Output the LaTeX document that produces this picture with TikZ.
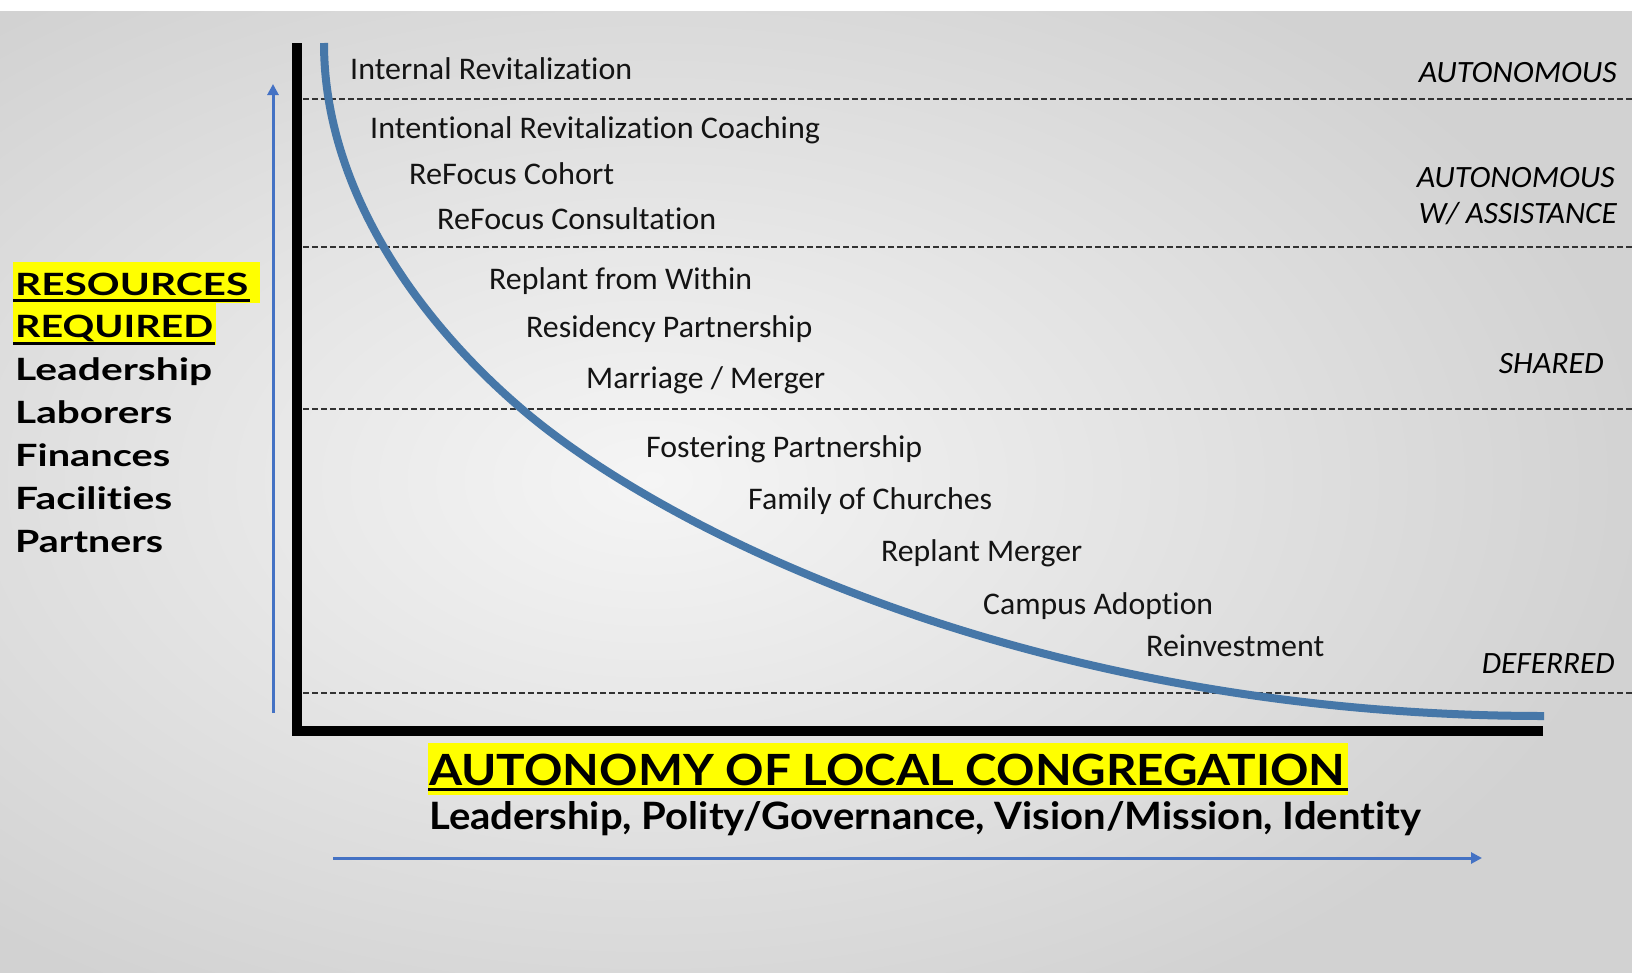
\documentclass[tikz,border=0pt]{standalone}
\usepackage{fontspec}
\usepackage{graphicx}
\setmainfont{Carlito}[Ligatures=NoCommon, RawFeature={-clig;-dlig;-calt}]
\newfontfamily\gotham{Lato}[Ligatures=NoCommon, RawFeature={-clig;-dlig;-calt}]
\usetikzlibrary{arrows.meta}
\definecolor{curveblue}{HTML}{4677A8}
\definecolor{arrowblue}{HTML}{4472C4}
\definecolor{hl}{HTML}{FFFF00}
\definecolor{dashgray}{HTML}{333333}
\definecolor{bgedge}{HTML}{D2D2D2}
\definecolor{bgmid}{HTML}{F5F5F5}
\newcommand{\fitto}[2]{\resizebox{#1pt}{\height}{#2}}
\newcommand{\tsep}{\kern0pt}
\tikzset{
  item/.style={anchor=base west, inner sep=0pt, font=\fontsize{31.5}{32}\selectfont, text=black!92},
  zone/.style={anchor=base east, inner sep=0pt, font=\fontsize{31}{32}\itshape\selectfont, text=black},
  res/.style={anchor=base west, inner sep=0pt, font=\gotham\bfseries\fontsize{30.7}{31}\selectfont, text=black},
  zoneline/.style={dashgray, line width=2pt, dash pattern=on 6pt off 3pt},
  axisbar/.style={fill=black},
  hlbox/.style={fill=hl},
  uline/.style={black, line width=3pt},
  bluearrow/.style={arrowblue, line width=3pt, -{Triangle[length=11pt,width=11pt]}},
  curve/.style={curveblue, line width=8pt}
}
\begin{document}
\begin{tikzpicture}[x=1pt,y=-1pt]
\useasboundingbox (0,0) rectangle (1632,972);
% background
\fill[white] (0,0) rectangle (1632,972);
\begin{scope}
  \clip (0,11) rectangle (1632,972);
  \shade[inner color=bgmid, outer color=bgedge] (-350,-120) rectangle (1650,1080);
\end{scope}

% zone boundary lines
\coordinate (d1a) at (303,99);  \coordinate (d1b) at (1632,99);
\coordinate (d2a) at (303,247); \coordinate (d2b) at (1632,247);
\coordinate (d3a) at (303,409); \coordinate (d3b) at (1632,409);
\coordinate (d4a) at (303,693); \coordinate (d4b) at (1632,693);
\draw[zoneline] (d1a) -- (d1b);
\draw[zoneline] (d2a) -- (d2b);
\draw[zoneline] (d3a) -- (d3b);
\draw[zoneline] (d4a) -- (d4b);

% curve
\coordinate (cs) at (324,43);
\coordinate (cm) at (523,410);
\coordinate (ce) at (1544,716);
\draw[curve] (cs) .. controls (324,193) and (423,325) .. (cm)
                  .. controls (673,537.5) and (1044,716) .. (ce);

% axes
\fill[axisbar] (292,43) rectangle (302,736);
\fill[axisbar] (292,726) rectangle (1543,736);

% blue arrows
\coordinate (va) at (273,713); \coordinate (vb) at (273,84);
\coordinate (ha) at (333,858); \coordinate (hb) at (1482,858);
\draw[bluearrow] (va) -- (vb);
\draw[bluearrow] (ha) -- (hb);

% items
\node[item] (i1) at (350,79) {\fitto{282}{Internal Revitalizat\tsep ion}};
\node[item] (i2) at (370,138) {\fitto{450}{Intent\tsep ional Revitalizat\tsep ion Coaching}};
\node[item] (i3) at (409,184) {\fitto{205}{ReFocus Cohort}};
\node[item] (i4) at (437,229) {\fitto{279}{ReFocus Consultat\tsep ion}};
\node[item] (i5) at (489,289) {\fitto{263}{Replant from Within}};
\node[item] (i6) at (526,337) {\fitto{286}{Residency Partnership}};
\node[item] (i7) at (586,388) {\fitto{239}{Marriage / Merger}};
\node[item] (i8) at (646,457) {\fitto{276}{Fostering Partnership}};
\node[item] (i9) at (748,509) {\fitto{244}{Family of Churches}};
\node[item] (i10) at (881,561) {\fitto{201}{Replant Merger}};
\node[item] (i11) at (983,614) {\fitto{230}{Campus Adopt\tsep ion}};
\node[item] (i12) at (1146,656) {\fitto{178}{Reinvestment}};

% zone labels
\node[zone] (z1) at (1617,82) {\fitto{198}{AUTONOMOUS}};
\node[zone] (z2) at (1615,187) {\fitto{198}{AUTONOMOUS}};
\node[zone] (z3) at (1617,223) {\fitto{198}{W/ ASSISTANCE}};
\node[zone] (z4) at (1604,373) {\fitto{105}{SHARED}};
\node[zone] (z5) at (1615,673) {\fitto{133}{DEFERRED}};

% resources
\fill[hlbox] (13,262) rectangle (260,303);
\fill[hlbox] (13,303) rectangle (216,345);
\draw[uline] (13,300) -- (250,300);
\draw[uline] (13,343) -- (215,343);
\node[res] (r1) at (15,295) {\fitto{233}{RESOURCES}};
\node[res] (r2) at (15,337) {\fitto{198}{REQUIRED}};
\node[res] (r3) at (15,380) {\fitto{197}{Leadership}};
\node[res] (r4) at (15,423) {\fitto{157}{Laborers}};
\node[res] (r5) at (15,466) {\fitto{155}{Finances}};
\node[res] (r6) at (15,509) {\fitto{157}{Facilit\tsep ies}};
\node[res] (r7) at (15,552) {\fitto{148}{Partners}};

% autonomy title
\fill[hlbox] (428,743) rectangle (1348,795);
\draw[uline] (428,789.5) -- (1348,789.5);
\node[res, font=\gotham\bfseries\fontsize{43}{44}\selectfont] (t1) at (429,785) {\fitto{916}{AUTONOMY OF LOCAL CONGREGATION}};
\node[res, font=\gotham\bfseries\fontsize{37.7}{38}\selectfont] (t2) at (429,829) {\fitto{992}{Leadership, Polity/Governance, Vision/Mission, Ident\tsep ity}};
\end{tikzpicture}
\end{document}
